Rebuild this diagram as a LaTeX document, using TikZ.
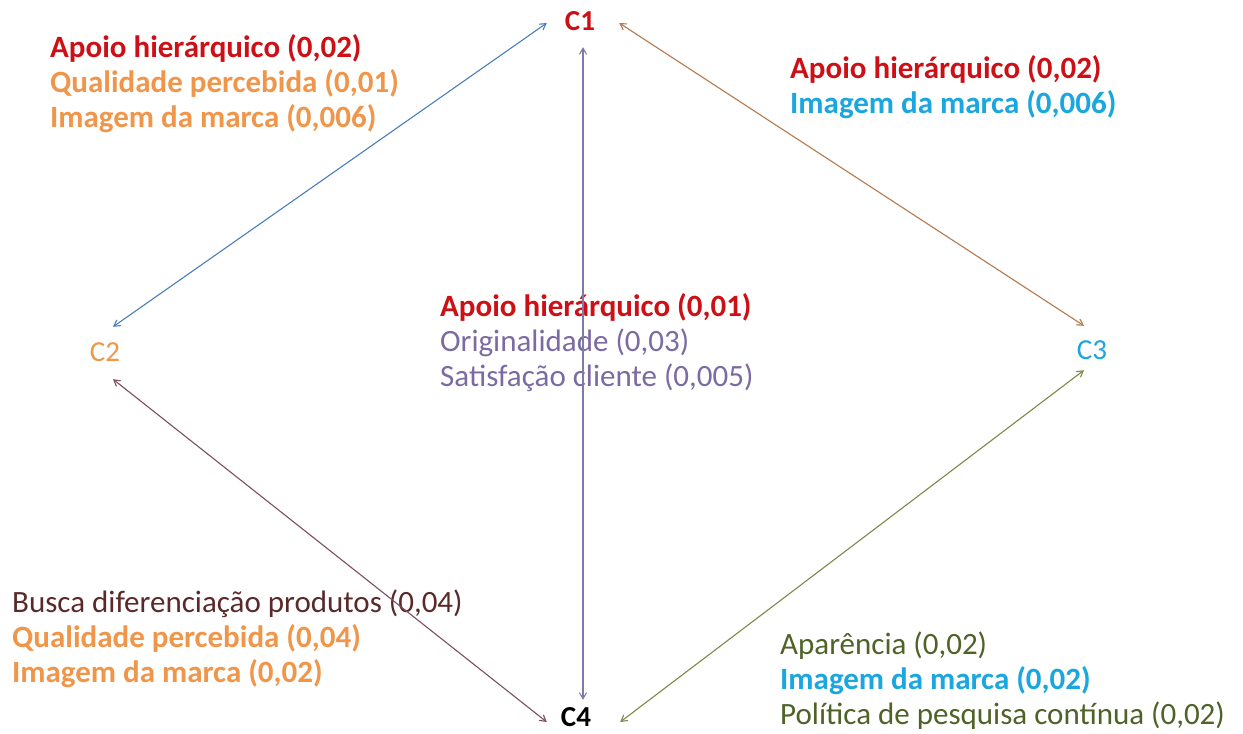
\documentclass[tikz,border=0pt]{standalone}
\usepackage{fontspec}
\setmainfont{Carlito}
\usepackage{xcolor}
\usepackage{tikz}
\usetikzlibrary{arrows.meta,positioning,calc}
\definecolor{apoiored}{HTML}{CC1016}
\definecolor{qualorange}{HTML}{F0964A}
\definecolor{marcacyan}{HTML}{1AA6DF}
\definecolor{origpurple}{HTML}{7B6BA3}
\definecolor{buscabrown}{HTML}{5A2A2A}
\definecolor{aparolive}{HTML}{4F6228}
\definecolor{lineblue}{HTML}{4A7EBB}
\definecolor{linegray}{HTML}{7E7BA6}
\definecolor{linebrown}{HTML}{B47A4E}
\definecolor{linemauve}{HTML}{7D4F5E}
\definecolor{lineolive}{HTML}{7A8A48}
\tikzset{
  every node/.style={inner sep=0pt},
  cnode/.style={font=\fontsize{29}{30}\selectfont,minimum width=66pt,minimum height=52pt},
  block/.style={anchor=north west,align=left,font=\fontsize{31}{35}\selectfont},
  link/.style={{Straight Barb[length=6pt,width=7pt]}-{Straight Barb[length=6pt,width=7pt]},line width=1.1pt}
}
\begin{document}
\begin{tikzpicture}[x=1pt,y=-1pt]
  \useasboundingbox[fill=white] (0,0) rectangle (1243,734);

  \node[cnode,text=apoiored] (c1) at (580,21) {\textbf{C1}};
  \node[cnode,text=qualorange,minimum height=50pt] (c2) at (105,352) {C2};
  \node[cnode,text=marcacyan,minimum height=48pt] (c3) at (1092,350) {C3};
  \node[cnode,minimum height=34pt] (c4) at (576,717) {\textbf{C4}};

  \node[block] (c1c2) at (50,34) {\textcolor{apoiored}{\bfseries Apoio hierárquico (0,02)}\\
    \textcolor{qualorange}{\bfseries Qualidade percebida (0,01)}\\
    \textcolor{qualorange}{\bfseries Imagem da marca (0,006)}};
  \node[block] (c1c3) at (790,55) {\textcolor{apoiored}{\bfseries Apoio hierárquico (0,02)}\\
    \textcolor{marcacyan}{\bfseries Imagem da marca (0,006)}};
  \node[block] (c1c4) at (440,293) {\textcolor{apoiored}{\bfseries Apoio hierárquico (0,01)}\\
    \textcolor{origpurple}{Originalidade (0,03)}\\
    \textcolor{origpurple}{Satisfação cliente (0,005)}};
  \node[block] (c2c4) at (12,590) {\textcolor{buscabrown}{Busca diferenciação produtos (0,04)}\\
    \textcolor{qualorange}{\bfseries Qualidade percebida (0,04)}\\
    \textcolor{qualorange}{\bfseries Imagem da marca (0,02)}};
  \node[block] (c3c4) at (780,632) {\textcolor{aparolive}{Aparência (0,02)}\\
    \textcolor{marcacyan}{\bfseries Imagem da marca (0,02)}\\
    \textcolor{aparolive}{Política de pesquisa contínua (0,02)}};

  \draw[link,draw=lineblue] ([yshift=-2pt]c1.west) -- ([xshift=8pt]c2.north);
  \draw[link,draw=linebrown] ([xshift=6pt,yshift=-2pt]c1.east) -- ([xshift=-8pt]c3.north);
  \draw[link,draw=linegray] ([xshift=3pt]c1.south) -- ([xshift=7pt]c4.north);
  \draw[link,draw=linemauve] ([xshift=8pt,yshift=-2pt]c2.south) -- ([xshift=4pt,yshift=-5pt]c4.west);
  \draw[link,draw=lineolive] ([xshift=-8pt,yshift=4pt]c3.south) -- ([xshift=11pt,yshift=-5pt]c4.east);
\end{tikzpicture}
\end{document}
